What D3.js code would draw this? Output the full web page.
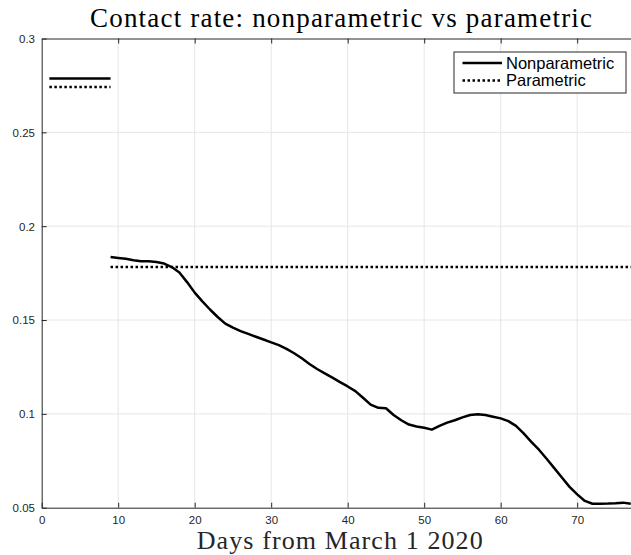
<!DOCTYPE html>
<html>
<head>
<meta charset="utf-8">
<script src="https://cdn.jsdelivr.net/npm/d3@7"></script>
<style>
  html, body { margin: 0; padding: 0; background: #fff; }
  svg { display: block; }
</style>
</head>
<body>
<svg id="chart" width="631" height="555"></svg>
<script>
// ---------- data ----------
const titleText = "Contact rate: nonparametric vs parametric";
const xLabelText = "Days from March 1 2020";
const seriesNames = ["Nonparametric", "Parametric"];

const xTicks = [0, 10, 20, 30, 40, 50, 60, 70];
const xTickLabels = ["0", "10", "20", "30", "40", "50", "60", "70"];
const yTicks = [0.05, 0.1, 0.15, 0.2, 0.25, 0.3];
const yTickLabels = ["0.05", "0.1", "0.15", "0.2", "0.25", "0.3"];

// early constant segment (days 1-9)
const earlyDays = [1, 9];
const earlyNonpar = [0.2787, 0.2787];
const earlyPar = [0.2742, 0.2742];

// parametric after day 9
const parDays = [9, 78];
const parValues = [0.1782, 0.1782];

// nonparametric after day 9
const npDays = [9, 10, 11, 12, 13, 14, 15, 16, 17, 18, 19, 20, 21, 22, 23, 24, 25, 26, 27, 28,
  29, 30, 31, 32, 33, 34, 35, 36, 37, 38, 39, 40, 41, 42, 43, 44, 45, 46, 47, 48,
  49, 50, 51, 52, 53, 54, 55, 56, 57, 58, 59, 60, 61, 62, 63, 64, 65, 66, 67, 68,
  69, 70, 71, 72, 73, 74, 75, 76, 77];
const npValues = [0.1836, 0.1831, 0.1826, 0.1819, 0.1813, 0.1813, 0.1809, 0.1801, 0.1782, 0.1753,
  0.1702, 0.1646, 0.1599, 0.1556, 0.1516, 0.1481, 0.1459, 0.1441, 0.1426, 0.1411,
  0.1396, 0.1381, 0.1366, 0.1346, 0.1323, 0.1296, 0.1266, 0.1239, 0.1216, 0.1193,
  0.1169, 0.1146, 0.1121, 0.1086, 0.1049, 0.1032, 0.1030, 0.0994, 0.0966, 0.0943,
  0.0933, 0.0926, 0.0916, 0.0936, 0.0953, 0.0966, 0.0981, 0.0994, 0.0998, 0.0994,
  0.0985, 0.0976, 0.0961, 0.0936, 0.0896, 0.0851, 0.0809, 0.0761, 0.0711, 0.0661,
  0.0611, 0.0571, 0.0536, 0.0521, 0.0521, 0.0522, 0.0524, 0.0527, 0.0521];

// ---------- layout ----------
const svg = d3.select("#chart");
const mLeft = 41.7, mRight = 638.4, mTop = 38.5, mBottom = 507.7;
const axisColor = "#262626";
const gridColor = "#e6e6e6";

const x = d3.scaleLinear().domain([0, 78]).range([mLeft, mRight]);
const y = d3.scaleLinear().domain([0.05, 0.3]).range([mBottom, mTop]);

svg.append("defs").append("clipPath").attr("id", "plotclip")
  .append("rect").attr("x", mLeft).attr("y", mTop)
  .attr("width", mRight - mLeft).attr("height", mBottom - mTop);

// grid
const grid = svg.append("g");
grid.selectAll("line.vx").data(xTicks.filter(d => d > 0)).enter().append("line")
  .attr("x1", d => x(d)).attr("x2", d => x(d))
  .attr("y1", mTop).attr("y2", mBottom)
  .attr("stroke", gridColor).attr("stroke-width", 1);
grid.selectAll("line.hy").data(yTicks.filter(d => d > 0.05 && d < 0.3)).enter().append("line")
  .attr("x1", mLeft).attr("x2", mRight)
  .attr("y1", d => y(d)).attr("y2", d => y(d))
  .attr("stroke", gridColor).attr("stroke-width", 1);

// axes
const fontTick = "'Liberation Sans', Arial, Helvetica, sans-serif";
const xAxis = d3.axisBottom(x).tickValues(xTicks)
  .tickFormat((d, i) => xTickLabels[i]).tickSizeInner(-5).tickSizeOuter(0).tickPadding(8.6);
const gx = svg.append("g").attr("transform", `translate(0,${mBottom})`).call(xAxis);

const xAxisTop = d3.axisTop(x).tickValues(xTicks.filter(d => d > 0))
  .tickFormat("").tickSizeInner(-5).tickSizeOuter(0);
const gxt = svg.append("g").attr("transform", `translate(0,${mTop})`).call(xAxisTop);

const yAxis = d3.axisLeft(y).tickValues(yTicks)
  .tickFormat((d, i) => yTickLabels[i]).tickSizeInner(-5).tickSizeOuter(0).tickPadding(6.7);
const gy = svg.append("g").attr("transform", `translate(${mLeft},0)`).call(yAxis);

[gx, gxt, gy].forEach(g => {
  g.select(".domain").attr("stroke", axisColor).attr("stroke-width", 1);
  g.selectAll(".tick line").attr("stroke", axisColor).attr("stroke-width", 1);
  g.selectAll(".tick text").attr("fill", axisColor)
    .style("font-family", fontTick).style("font-size", "11.5px");
});
gy.selectAll(".tick text").attr("dy", "0.34em");

// lines
const line = d3.line().x(d => x(d[0])).y(d => y(d[1]));
const plot = svg.append("g").attr("clip-path", "url(#plotclip)");

const zip = (a, b) => a.map((v, i) => [v, b[i]]);

plot.append("path").datum(zip(earlyDays, earlyNonpar)).attr("d", line)
  .attr("fill", "none").attr("stroke", "#000").attr("stroke-width", 2.5);
plot.append("path").datum(zip(earlyDays, earlyPar)).attr("d", line)
  .attr("fill", "none").attr("stroke", "#000").attr("stroke-width", 2.5)
  .attr("stroke-dasharray", "2.5,2.5");
plot.append("path").datum(zip(parDays, parValues)).attr("d", line)
  .attr("fill", "none").attr("stroke", "#000").attr("stroke-width", 2.5)
  .attr("stroke-dasharray", "2.5,2.5");
plot.append("path").datum(zip(npDays, npValues)).attr("d", line)
  .attr("fill", "none").attr("stroke", "#000").attr("stroke-width", 2.5)
  .attr("stroke-linejoin", "round");

// title and x label
const fontSerif = "'Liberation Serif', 'Times New Roman', serif";
svg.append("text").attr("x", 90).attr("y", 26.7)
  .attr("textLength", 502).attr("lengthAdjust", "spacing")
  .style("font-family", fontSerif).style("font-size", "27px").attr("fill", "#000")
  .text(titleText);
svg.append("text").attr("x", 196.7).attr("y", 548.5)
  .attr("textLength", 286).attr("lengthAdjust", "spacing")
  .style("font-family", fontSerif).style("font-size", "26px").attr("fill", axisColor)
  .text(xLabelText);

// legend
const lg = svg.append("g");
lg.append("rect").attr("x", 454).attr("y", 52).attr("width", 172).attr("height", 41)
  .attr("fill", "#fff").attr("stroke", axisColor).attr("stroke-width", 1);
const legendRows = [
  { name: seriesNames[0], dash: null, y: 63 },
  { name: seriesNames[1], dash: "2.5,2.5", y: 80.5 }
];
legendRows.forEach(r => {
  lg.append("line").attr("x1", 462.5).attr("x2", 502).attr("y1", r.y).attr("y2", r.y)
    .attr("stroke", "#000").attr("stroke-width", 2.5)
    .attr("stroke-dasharray", r.dash);
  lg.append("text").attr("x", 506).attr("y", r.y).attr("dy", "0.35em")
    .style("font-family", fontTick).style("font-size", "16.5px").attr("fill", "#000")
    .text(r.name);
});
</script>
</body>
</html>
